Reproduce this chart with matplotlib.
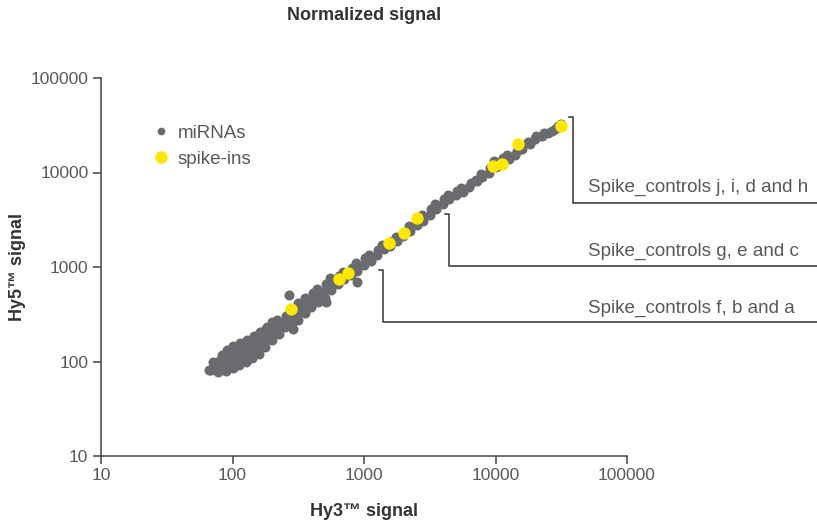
import matplotlib
matplotlib.use("Agg")
import matplotlib.pyplot as plt
from matplotlib.ticker import FixedLocator, NullLocator
from matplotlib.lines import Line2D

plt.rcParams['font.family'] = ['Liberation Sans', 'DejaVu Sans']

# miRNA signals (Hy3 vs Hy5)
hy3_mirna = [66,
    69, 72, 71,
    78, 81, 79, 83,
    89, 87, 91, 89, 91,
    100, 102, 98, 102, 100,
    112, 110, 115, 112, 115,
    126, 129, 123, 126, 129,
    141, 138, 145, 141, 145,
    158, 162, 155, 158, 162,
    178, 174, 182, 178, 182,
    200, 204, 195, 200,
    224, 229, 219,
    251, 245, 257,
    282, 288, 275, 282,
    316, 309, 324, 316,
    355, 363, 347, 355,
    398, 389, 407,
    447, 457, 437,
    501, 490, 513,
    562, 575, 550,
    631, 646,
    708, 692,
    794, 813,
    891, 871,
    1000, 1023,
    1122, 1096,
    1259, 1288,
    1413, 1380,
    1585, 1622,
    1778, 1738,
    1995, 2042,
    2239, 2188,
    2512, 2570,
    2818, 2754,
    3162, 3236,
    3548, 3467,
    3981, 4074,
    4467, 4365,
    5012, 5129,
    5623, 5495,
    6310, 6457,
    7079, 7244,
    7943, 7762,
    8913, 9120,
    10000, 9772,
    11220, 11480,
    12590, 12300,
    14130, 14450,
    15850, 15490,
    17780, 18200,
    19950, 20420,
    22390, 23400,
    25120, 26900,
    28180, 29800,
    31620,
    269, 288, 891, 513]
hy5_mirna = [81,
    81, 91, 98,
    78, 89, 102, 117,
    79, 91, 105, 120, 132,
    85, 98, 112, 129, 145,
    91, 105, 120, 138, 158,
    100, 115, 132, 151, 170,
    110, 126, 145, 166, 186,
    120, 138, 158, 182, 204,
    141, 162, 186, 214, 234,
    170, 195, 224, 263,
    195, 229, 275,
    229, 263, 302,
    257, 295, 339, 363,
    275, 316, 363, 417,
    324, 372, 427, 468,
    380, 447, 525,
    427, 501, 589,
    468, 550, 661,
    575, 676, 759,
    661, 794,
    741, 891,
    813, 977,
    912, 1096,
    1047, 1259,
    1148, 1349,
    1349, 1514,
    1549, 1698,
    1660, 1862,
    1905, 2089,
    2138, 2344,
    2399, 2692,
    2754, 3090,
    3090, 3548,
    3548, 4074,
    4074, 4677,
    4677, 5248,
    5248, 5754,
    5754, 6310,
    6166, 6918,
    7079, 7762,
    8318, 8128,
    8913, 9550,
    10000, 11220,
    11480, 13180,
    12880, 14130,
    13800, 15490,
    15140, 16980,
    17780, 19050,
    20890, 20000,
    22390, 24550,
    24550, 26000,
    26300, 27500,
    28840, 31000,
    32360,
    501, 219, 692, 427]

# spike-in controls
hy3_spike = [279, 646, 755, 1549, 2014, 2529, 9570, 11200, 14830, 31500]
hy5_spike = [359, 747, 865, 1795, 2291, 3305, 11720, 12300, 20040, 31040]

ticks = [10, 100, 1000, 10000, 100000]
tick_labels = ['10', '100', '1000', '10000', '100000']

# bracket groups: x of bracket, y top, y bottom, label, label y
groups = [
    (38800, 38650, 4750, 'Spike_controls j, i, d and h', 7030),
    (4430, 3640, 1026, 'Spike_controls g, e and c', 1476),
    (1393, 929, 262, 'Spike_controls f, b and a', 368),
]

gray = '#6a6b6f'
yellow = '#ffe800'
txt = '#58595b'

fig = plt.figure(figsize=(8.17, 5.25), dpi=100)
ax = fig.add_axes([101 / 817, 69 / 525, 526 / 817, 378 / 525])

ax.scatter(hy3_mirna, hy5_mirna, s=52, color=gray, linewidths=0, zorder=2)
ax.scatter(hy3_spike, hy5_spike, s=80, color=yellow, linewidths=0, zorder=3)

ax.set_xscale('log')
ax.set_yscale('log')
ax.set_xlim(10, 100000)
ax.set_ylim(10, 100000)
ax.xaxis.set_major_locator(FixedLocator(ticks))
ax.yaxis.set_major_locator(FixedLocator(ticks))
ax.xaxis.set_minor_locator(NullLocator())
ax.yaxis.set_minor_locator(NullLocator())
ax.set_xticklabels(tick_labels)
ax.set_yticklabels(tick_labels)
ax.tick_params(direction='out', length=6, width=1.1, color='#444444',
               labelsize=12.5, labelcolor=txt, pad=3)

for side in ['top', 'right']:
    ax.spines[side].set_visible(False)
for side in ['left', 'bottom']:
    ax.spines[side].set_color('#444444')
    ax.spines[side].set_linewidth(1.1)

# brackets pointing to the spike-in groups
for xv, ytop, ybot, label, ytxt in groups:
    ax.plot([xv * 0.93, xv, xv, 10 ** 6.5], [ytop, ytop, ybot, ybot],
            color='#333333', lw=1.1, clip_on=False, zorder=1)
    ax.text(50500, ytxt, label, ha='left', va='center', fontsize=13.6,
            color=txt, clip_on=False)

handles = [
    Line2D([], [], marker='o', ls='', color=gray, markersize=5.5, markeredgewidth=0),
    Line2D([], [], marker='o', ls='', color=yellow, markersize=9, markeredgewidth=0),
]
ax.legend(handles, ['miRNAs', 'spike-ins'], loc='upper left',
          bbox_to_anchor=(0.085, 0.902), frameon=False, fontsize=13.5,
          labelcolor=txt, handlelength=0.6, handletextpad=0.6,
          labelspacing=0.5, borderpad=0)

fig.text(364 / 817, 1 - 15 / 525, 'Normalized signal', ha='center', va='center',
         fontsize=13, fontweight='bold', color='#333333')
fig.text(364 / 817, 1 - 512 / 525, 'Hy3™ signal', ha='center', va='center',
         fontsize=13, fontweight='bold', color='#333333')
fig.text(18 / 817, 1 - 267 / 525, 'Hy5™ signal', ha='center', va='center',
         rotation=90, fontsize=13, fontweight='bold', color='#333333')

fig.savefig('out.png', dpi=100)
